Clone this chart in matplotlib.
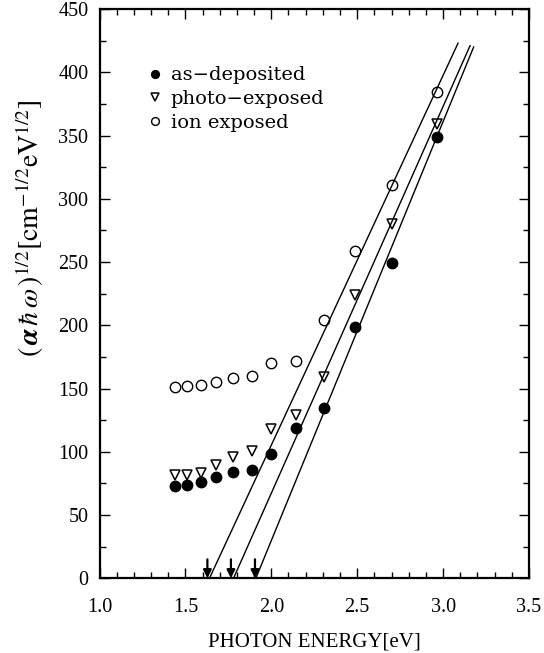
import numpy as np
import matplotlib
matplotlib.use('Agg')
import matplotlib.pyplot as plt
import matplotlib as mpl
from matplotlib.ticker import MultipleLocator

mpl.rcParams['font.family'] = 'serif'
mpl.rcParams['font.serif'] = ['Liberation Serif', 'DejaVu Serif']
mpl.rcParams['mathtext.fontset'] = 'stix'
mpl.rcParams['xtick.direction'] = 'in'
mpl.rcParams['ytick.direction'] = 'in'

# photon energy (eV)
energy = [1.44, 1.51, 1.59, 1.68, 1.775, 1.885, 2.0, 2.145, 2.305, 2.49, 2.705, 2.965]
as_deposited = [73, 74, 76, 80, 84, 86, 98, 118.5, 134.5, 199, 249, 349]
photo_exposed = [81.5, 82, 83, 89.5, 96, 101, 118, 129, 159.5, 224, 280, 359]
ion_exposed = [151.5, 152, 153, 155, 158, 160, 170, 172, 204, 259, 310.5, 384.5]

# linear extrapolations: x-intercept and upper end point
fit_x0 = [1.91, 1.78, 1.64]
fit_x1 = [3.178, 3.157, 3.087]
fit_y1 = [420, 421, 423]
# optical gap arrows
gap_arrows = [1.905, 1.765, 1.628]

fig = plt.figure(figsize=(5.44, 6.53), dpi=100)
ax = fig.add_axes([99.5 / 544, 1 - 578.3 / 653, (529 - 99.5) / 544, (578.3 - 9) / 653])

ax.plot(energy, as_deposited, 'o', ms=7.5, mfc='black', mec='black', ls='none',
        label='as\u2212deposited')
ax.plot(energy, photo_exposed, 'v', ms=7.5, mfc='white', mec='black', mew=1.1, ls='none',
        label='photo\u2212exposed')
ax.plot(energy, ion_exposed, 'o', ms=7.5, mfc='white', mec='black', mew=1.0, ls='none',
        label='ion exposed')

for x0, x1, y1 in zip(fit_x0, fit_x1, fit_y1):
    ax.plot([x0, x1], [0, y1], color='black', lw=1.0)

for xa in gap_arrows:
    ax.annotate('', xy=(xa, 0), xytext=(xa, 15),
                arrowprops=dict(arrowstyle='-|>', color='black', lw=1.6, mutation_scale=12,
                                shrinkA=0, shrinkB=0))

ax.set_xlim(1.0, 3.5)
ax.set_ylim(0, 450)
ax.xaxis.set_major_locator(MultipleLocator(0.5))
ax.xaxis.set_minor_locator(MultipleLocator(0.1))
ax.yaxis.set_major_locator(MultipleLocator(50))
ax.yaxis.set_minor_locator(MultipleLocator(25))
ax.xaxis.set_major_formatter(mpl.ticker.FormatStrFormatter('%.1f'))
ax.tick_params(which='both', top=True, right=True, labelsize=14.5, width=1.0)
ax.tick_params(which='major', length=7, pad=8)
ax.tick_params(axis='x', which='major', pad=14)
ax.tick_params(which='minor', length=4)
for s in ax.spines.values():
    s.set_linewidth(1.6)

ax.set_xlabel('PHOTON ENERGY[eV]', fontsize=15, labelpad=11)
fig.text(30 / 544, 1 - 228 / 653,
         r'$(\,\boldsymbol{\alpha}\,\hbar\,\omega\,)^{1/2}[\mathrm{cm}^{-1/2}\mathrm{eV}^{1/2}]$',
         rotation=90, ha='center', va='center', fontsize=20)

leg = ax.legend(loc='upper left', bbox_to_anchor=(0.075, 0.93), frameon=False,
                handlelength=0.6, handletextpad=0.5, labelspacing=0.3, markerscale=0.75,
                prop={'family': 'DejaVu Serif', 'size': 14})

fig.savefig('out.png', dpi=100)
